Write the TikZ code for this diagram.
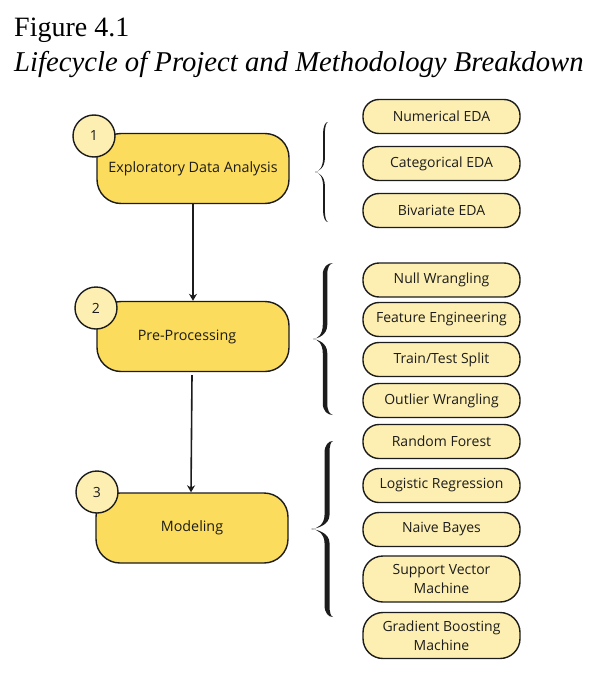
\documentclass[tikz,border=0pt]{standalone}
\usepackage{fontspec}
\setmainfont{Liberation Serif}
\newfontfamily\boxfont{Open Sans}
\usetikzlibrary{arrows.meta}
\definecolor{mainY}{HTML}{FCDC5C}
\definecolor{paleY}{HTML}{FDEFB2}
\definecolor{inkc}{HTML}{1C1C1C}
\newcommand{\cbrace}[6]{% xb, xs, xt, y0, y1, w
  \pgfmathsetmacro{\bYm}{(#4+#5)/2}%
  \pgfmathsetmacro{\bXl}{#2-#6/2}%
  \pgfmathsetmacro{\bXr}{#2+#6/2}%
  \fill[inkc] (#1,#4)
    .. controls ({\bXl+(#1-\bXl)*0.45},#4) and (\bXl,#4+4) .. (\bXl,#4+12)
    -- (\bXl,\bYm-14)
    .. controls (\bXl,\bYm-5) and ({#3+(\bXl-#3)*0.5},\bYm) .. (#3,\bYm)
    .. controls ({#3+(\bXl-#3)*0.5},\bYm) and (\bXl,\bYm+5) .. (\bXl,\bYm+14)
    -- (\bXl,#5-12)
    .. controls (\bXl,#5-4) and ({\bXl+(#1-\bXl)*0.45},#5) .. (#1,#5)
    .. controls ({\bXr+(#1-\bXr)*0.4},#5-0.8) and (\bXr,#5-4) .. (\bXr,#5-12)
    -- (\bXr,\bYm+14)
    .. controls (\bXr,\bYm+4) and ({#3+(\bXr-#3)*0.35},\bYm+0.6) .. (#3,\bYm)
    .. controls ({#3+(\bXr-#3)*0.35},\bYm-0.6) and (\bXr,\bYm-4) .. (\bXr,\bYm-14)
    -- (\bXr,#4+12)
    .. controls (\bXr,#4+4) and ({\bXr+(#1-\bXr)*0.4},#4+0.8) .. (#1,#4)
    -- cycle;%
}
\begin{document}
\begin{tikzpicture}[x=1pt,y=-1pt,
  mainbox/.style={draw=inkc, line width=1.4pt, fill=mainY, rounded corners=24pt,
    minimum width=192pt, minimum height=70pt, inner sep=0pt,
    font=\boxfont\fontsize{14.3}{16}\selectfont, text=inkc},
  numcirc/.style={draw=inkc, line width=1.4pt, fill=paleY, circle,
    minimum size=42pt, inner sep=0pt, font=\boxfont\fontsize{14}{15}\selectfont, text=inkc},
  pill/.style={draw=inkc, line width=1.4pt, fill=paleY, rounded corners=16pt,
    minimum width=157pt, minimum height=34pt, inner sep=0pt, align=center,
    font=\boxfont\fontsize{14}{19.5}\selectfont, text=inkc},
  tallpill/.style={pill, minimum height=46pt, rounded corners=20pt},
  flow/.style={draw=inkc, line width=1.6pt, -{Stealth[length=7pt,width=8pt]}}]
\useasboundingbox (0,0) rectangle (604,696);
\fill[white] (0,0) rectangle (604,696);

% title
\node[anchor=base west, inner sep=0pt, font=\fontsize{28}{32}\selectfont] (fig) at (14,36) {Figure 4.1};
\node[anchor=base west, inner sep=0pt, font=\fontsize{28.7}{32}\selectfont\itshape] (cap) at (14,71) {Lifecycle of Project and Methodology Breakdown};

% main boxes
\node[mainbox] (b1) at (193,168.5) {Exploratory Data Analysis};
\node[mainbox] (b2) at (193,336.5) {Pre-Processing\hspace*{12pt}};
\node[mainbox] (b3) at (192,528) {Modeling};

\node[numcirc] (c1) at (94,136) {1};
\node[numcirc] (c2) at (96,308) {2};
\node[numcirc] (c3) at (97,492) {3};

\draw[flow] (b1.south) -- (b2.north);
\draw[flow] ([xshift=-1pt,yshift=-3pt]b2.south) -- ([xshift=-1pt]b3.north);

% pills
\node[pill] (p1) at (441.5,116.5) {Numerical EDA};
\node[pill] (p2) at (441.5,163.5) {Categorical EDA};
\node[pill] (p3) at (441.5,210.5) {Bivariate EDA};
\node[pill] (q1) at (441.5,280) {Null Wrangling};
\node[pill] (q2) at (441.5,319.5) {Feature Engineering};
\node[pill] (q3) at (441.5,359.5) {Train/Test Split};
\node[pill] (q4) at (441.5,400.5) {Outlier Wrangling};
\node[pill] (r1) at (441.5,441.5) {Random Forest};
\node[pill] (r2) at (441.5,485.5) {Logistic Regression};
\node[pill] (r3) at (441.5,529.5) {Naive Bayes};
\node[tallpill] (r4) at (441.5,579) {Support Vector\\Machine};
\node[tallpill] (r5) at (441.5,635.5) {Gradient Boosting\\Machine};

% braces
\cbrace{328}{324}{315}{122}{222}{1.8}
\cbrace{333}{325}{313}{263}{415}{4.5}
\cbrace{333}{327}{311}{441}{617}{5}
\end{tikzpicture}
\end{document}
